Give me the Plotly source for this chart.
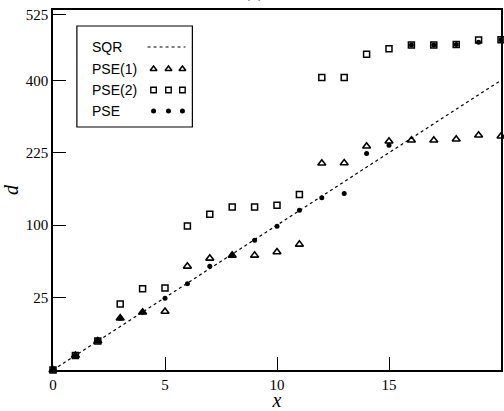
import numpy as np
import plotly.graph_objects as go

# ---- data (d values) ----
x_vals = list(range(0, 21))
sqr = [0, 1, 4, 9, 16, 25, 36, 49, 64, 81, 100, 121, 144, 169, 196, 225, 256, 289, 324, 361, 400]
pse1 = [0, 1, 4, 12.8, 15.9, 16.3, 51.2, 59.4, 62.6, 62.6, 66.3, 75.2, 203.7, 204.2,
        238.6, 249.3, 251.5, 251.5, 253.8, 262.6, 260.4]
pse2 = [0, 1, 4, 20.7, 31.5, 32.0, 98.8, 115.5, 126.6, 126.6, 129.3, 146.6, 407.8, 407.8,
        475.3, 491.5, 503.0, 503.0, 505.0, 518.5, 520.0]
pse = [0, 1, 4, 12.8, 15.9, 24.6, 35.5, 51.2, 63.2, 80.1, 98.4, 121.5, 141.3, 148.3,
       223.2, 240.7, 503.0, 503.0, 505.0, 512.0, 520.0]

y_tick_labels = ["25", "100", "225", "400", "525"]
y_tick_pos = [5, 10, 15, 20, 24.55]   # positions on the sqrt(d) axis
x_tick_vals = [0, 5, 10, 15, 20]

legend_names = ["SQR", "PSE(1)", "PSE(2)", "PSE"]

def s(v):
    return np.sqrt(np.array(v, dtype=float))

fig = go.Figure()

fig.add_trace(go.Scatter(x=x_vals, y=s(sqr), mode="lines",
                         line=dict(color="black", width=1.2, dash="dot"),
                         showlegend=False, cliponaxis=False))
fig.add_trace(go.Scatter(x=x_vals, y=s(pse1), mode="markers",
                         marker=dict(symbol="triangle-up-open", size=7, color="black",
                                     line=dict(width=1.6, color="black")),
                         showlegend=False, cliponaxis=False))
fig.add_trace(go.Scatter(x=x_vals, y=s(pse2), mode="markers",
                         marker=dict(symbol="square-open", size=6, color="black",
                                     line=dict(width=1.5, color="black")),
                         showlegend=False, cliponaxis=False))
fig.add_trace(go.Scatter(x=x_vals, y=s(pse), mode="markers",
                         marker=dict(symbol="circle", size=5, color="black"),
                         showlegend=False, cliponaxis=False))

# ---- custom legend (text left, samples right) on an overlay axis in pixel units ----
rows_py = [47, 69, 90, 111]
sample_px = [154, 169, 183]
fig.add_trace(go.Scatter(x=[148, 186], y=[rows_py[0], rows_py[0]], mode="lines",
                         line=dict(color="black", width=1.1, dash="dot"),
                         xaxis="x2", yaxis="y2", showlegend=False, hoverinfo="skip"))
fig.add_trace(go.Scatter(x=sample_px, y=[rows_py[1]] * 3, mode="markers",
                         marker=dict(symbol="triangle-up-open", size=6, color="black",
                                     line=dict(width=1.5, color="black")),
                         xaxis="x2", yaxis="y2", showlegend=False, hoverinfo="skip"))
fig.add_trace(go.Scatter(x=sample_px, y=[rows_py[2]] * 3, mode="markers",
                         marker=dict(symbol="square-open", size=5.5, color="black",
                                     line=dict(width=1.4, color="black")),
                         xaxis="x2", yaxis="y2", showlegend=False, hoverinfo="skip"))
fig.add_trace(go.Scatter(x=sample_px, y=[rows_py[3]] * 3, mode="markers",
                         marker=dict(symbol="circle", size=5, color="black"),
                         xaxis="x2", yaxis="y2", showlegend=False, hoverinfo="skip"))

annotations = []
for name, py in zip(legend_names, rows_py):
    annotations.append(dict(x=90, y=py, xref="x2", yref="y2", text=name, showarrow=False,
                            xanchor="left", yanchor="middle",
                            font=dict(family="Liberation Sans", size=14, color="black")))
annotations.append(dict(x=0.449, y=1.017, xref="paper", yref="paper", text="(a)",
                        showarrow=False, xanchor="center", yanchor="bottom",
                        font=dict(family="Liberation Serif", size=18, color="black")))

shapes = [dict(type="rect", xref="x2", yref="y2", x0=77, x1=193, y0=26, y1=127,
               line=dict(color="black", width=1.2), fillcolor="rgba(0,0,0,0)")]

tick_font = dict(family="Liberation Serif", size=15, color="black")

fig.update_layout(
    width=504, height=411,
    margin=dict(l=53, r=1, t=10, b=41),
    paper_bgcolor="white", plot_bgcolor="white",
    showlegend=False,
    annotations=annotations,
    shapes=shapes,
    xaxis=dict(range=[0, 20], tickvals=x_tick_vals, ticktext=[str(v) for v in x_tick_vals],
               ticks="inside", ticklen=13, tickwidth=1.2, tickcolor="black",
               showline=True, linecolor="black", linewidth=1.6, mirror=True,
               showgrid=False, zeroline=False, tickfont=tick_font,
               title=dict(text="<i>x</i>", font=dict(family="Liberation Serif", size=20, color="black"),
                          standoff=0)),
    yaxis=dict(range=[0, 24.85], tickvals=y_tick_pos, ticktext=y_tick_labels,
               ticks="inside", ticklen=13, tickwidth=1.2, tickcolor="black",
               showline=True, linecolor="black", linewidth=1.6, mirror=True,
               showgrid=False, zeroline=False, tickfont=tick_font,
               title=dict(text="<i>d</i>", font=dict(family="Liberation Serif", size=20, color="black"),
                          standoff=6)),
    xaxis2=dict(overlaying="x", range=[53, 503], visible=False, fixedrange=True),
    yaxis2=dict(overlaying="y", range=[370, 10], visible=False, fixedrange=True),
)

fig.write_html("out.html",
               config={"displayModeBar": False},
               post_script="document.body.style.margin='0px';document.body.style.overflow='hidden';")
